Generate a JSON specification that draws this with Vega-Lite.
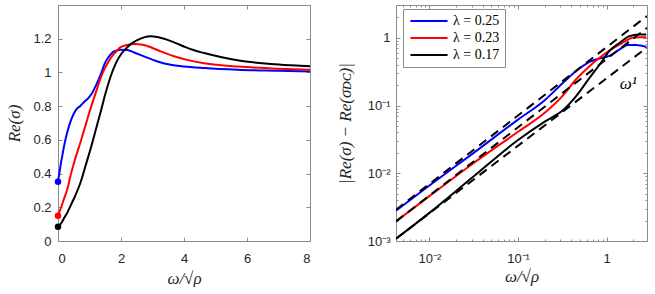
{
  "$schema": "https://vega.github.io/schema/vega-lite/v6.json",
  "padding": {"left": 5, "top": 4, "right": 0, "bottom": 0},
  "spacing": 20,
  "background": "white",
  "resolve": {"scale": {"color": "independent"}, "legend": {"color": "independent"}},
  "datasets": {
    "lin": [
      {"w": 0, "re": 0.352, "lam": "0.25"},
      {"w": 0.05, "re": 0.41, "lam": "0.25"},
      {"w": 0.1, "re": 0.47, "lam": "0.25"},
      {"w": 0.15, "re": 0.52, "lam": "0.25"},
      {"w": 0.2, "re": 0.57, "lam": "0.25"},
      {"w": 0.3, "re": 0.65, "lam": "0.25"},
      {"w": 0.4, "re": 0.71, "lam": "0.25"},
      {"w": 0.5, "re": 0.755, "lam": "0.25"},
      {"w": 0.6, "re": 0.785, "lam": "0.25"},
      {"w": 0.7, "re": 0.8, "lam": "0.25"},
      {"w": 0.83, "re": 0.825, "lam": "0.25"},
      {"w": 0.95, "re": 0.845, "lam": "0.25"},
      {"w": 1.09, "re": 0.88, "lam": "0.25"},
      {"w": 1.2, "re": 0.92, "lam": "0.25"},
      {"w": 1.36, "re": 0.99, "lam": "0.25"},
      {"w": 1.5, "re": 1.06, "lam": "0.25"},
      {"w": 1.6, "re": 1.09, "lam": "0.25"},
      {"w": 1.78, "re": 1.125, "lam": "0.25"},
      {"w": 1.99, "re": 1.135, "lam": "0.25"},
      {"w": 2.2, "re": 1.133, "lam": "0.25"},
      {"w": 2.4, "re": 1.12, "lam": "0.25"},
      {"w": 2.73, "re": 1.095, "lam": "0.25"},
      {"w": 3.16, "re": 1.065, "lam": "0.25"},
      {"w": 3.58, "re": 1.045, "lam": "0.25"},
      {"w": 4.0, "re": 1.035, "lam": "0.25"},
      {"w": 4.64, "re": 1.026, "lam": "0.25"},
      {"w": 5.7, "re": 1.016, "lam": "0.25"},
      {"w": 7.0, "re": 1.01, "lam": "0.25"},
      {"w": 8.0, "re": 1.006, "lam": "0.25"},
      {"w": 0, "re": 0.15, "lam": "0.23"},
      {"w": 0.1, "re": 0.2, "lam": "0.23"},
      {"w": 0.19, "re": 0.25, "lam": "0.23"},
      {"w": 0.3, "re": 0.31, "lam": "0.23"},
      {"w": 0.4, "re": 0.39, "lam": "0.23"},
      {"w": 0.55, "re": 0.49, "lam": "0.23"},
      {"w": 0.72, "re": 0.59, "lam": "0.23"},
      {"w": 0.88, "re": 0.69, "lam": "0.23"},
      {"w": 1.04, "re": 0.79, "lam": "0.23"},
      {"w": 1.2, "re": 0.88, "lam": "0.23"},
      {"w": 1.36, "re": 0.97, "lam": "0.23"},
      {"w": 1.5, "re": 1.03, "lam": "0.23"},
      {"w": 1.67, "re": 1.085, "lam": "0.23"},
      {"w": 1.85, "re": 1.125, "lam": "0.23"},
      {"w": 1.99, "re": 1.15, "lam": "0.23"},
      {"w": 2.2, "re": 1.163, "lam": "0.23"},
      {"w": 2.42, "re": 1.168, "lam": "0.23"},
      {"w": 2.73, "re": 1.163, "lam": "0.23"},
      {"w": 3.0, "re": 1.145, "lam": "0.23"},
      {"w": 3.26, "re": 1.125, "lam": "0.23"},
      {"w": 3.79, "re": 1.09, "lam": "0.23"},
      {"w": 4.2, "re": 1.07, "lam": "0.23"},
      {"w": 4.64, "re": 1.055, "lam": "0.23"},
      {"w": 5.7, "re": 1.035, "lam": "0.23"},
      {"w": 7.0, "re": 1.022, "lam": "0.23"},
      {"w": 8.0, "re": 1.016, "lam": "0.23"},
      {"w": 0, "re": 0.085, "lam": "0.17"},
      {"w": 0.1, "re": 0.105, "lam": "0.17"},
      {"w": 0.19, "re": 0.135, "lam": "0.17"},
      {"w": 0.3, "re": 0.17, "lam": "0.17"},
      {"w": 0.4, "re": 0.21, "lam": "0.17"},
      {"w": 0.55, "re": 0.27, "lam": "0.17"},
      {"w": 0.72, "re": 0.35, "lam": "0.17"},
      {"w": 0.88, "re": 0.45, "lam": "0.17"},
      {"w": 1.04, "re": 0.55, "lam": "0.17"},
      {"w": 1.2, "re": 0.66, "lam": "0.17"},
      {"w": 1.36, "re": 0.77, "lam": "0.17"},
      {"w": 1.5, "re": 0.87, "lam": "0.17"},
      {"w": 1.67, "re": 0.976, "lam": "0.17"},
      {"w": 1.85, "re": 1.06, "lam": "0.17"},
      {"w": 1.99, "re": 1.105, "lam": "0.17"},
      {"w": 2.15, "re": 1.14, "lam": "0.17"},
      {"w": 2.31, "re": 1.168, "lam": "0.17"},
      {"w": 2.5, "re": 1.19, "lam": "0.17"},
      {"w": 2.73, "re": 1.208, "lam": "0.17"},
      {"w": 2.94, "re": 1.214, "lam": "0.17"},
      {"w": 3.15, "re": 1.21, "lam": "0.17"},
      {"w": 3.37, "re": 1.2, "lam": "0.17"},
      {"w": 3.7, "re": 1.177, "lam": "0.17"},
      {"w": 4.0, "re": 1.154, "lam": "0.17"},
      {"w": 4.3, "re": 1.133, "lam": "0.17"},
      {"w": 4.64, "re": 1.115, "lam": "0.17"},
      {"w": 5.2, "re": 1.09, "lam": "0.17"},
      {"w": 5.7, "re": 1.072, "lam": "0.17"},
      {"w": 6.2, "re": 1.06, "lam": "0.17"},
      {"w": 6.76, "re": 1.05, "lam": "0.17"},
      {"w": 7.4, "re": 1.042, "lam": "0.17"},
      {"w": 8.0, "re": 1.036, "lam": "0.17"}
    ],
    "dots": [
      {"w": 0, "re": 0.352, "lam": "0.25"},
      {"w": 0, "re": 0.15, "lam": "0.23"},
      {"w": 0, "re": 0.085, "lam": "0.17"}
    ],
    "log": [
      {"w": 0.0042, "d": 0.0028, "lam": "0.25"},
      {"w": 0.01, "d": 0.0066, "lam": "0.25"},
      {"w": 0.03, "d": 0.019, "lam": "0.25"},
      {"w": 0.1, "d": 0.062, "lam": "0.25"},
      {"w": 0.2, "d": 0.12, "lam": "0.25"},
      {"w": 0.32, "d": 0.215, "lam": "0.25"},
      {"w": 0.45, "d": 0.32, "lam": "0.25"},
      {"w": 0.64, "d": 0.44, "lam": "0.25"},
      {"w": 0.83, "d": 0.495, "lam": "0.25"},
      {"w": 1.07, "d": 0.54, "lam": "0.25"},
      {"w": 1.39, "d": 0.67, "lam": "0.25"},
      {"w": 1.72, "d": 0.78, "lam": "0.25"},
      {"w": 2.14, "d": 0.78, "lam": "0.25"},
      {"w": 2.8, "d": 0.73, "lam": "0.25"},
      {"w": 0.0042, "d": 0.00195, "lam": "0.23"},
      {"w": 0.01, "d": 0.0046, "lam": "0.23"},
      {"w": 0.03, "d": 0.0135, "lam": "0.23"},
      {"w": 0.1, "d": 0.041, "lam": "0.23"},
      {"w": 0.2, "d": 0.078, "lam": "0.23"},
      {"w": 0.32, "d": 0.14, "lam": "0.23"},
      {"w": 0.45, "d": 0.242, "lam": "0.23"},
      {"w": 0.64, "d": 0.38, "lam": "0.23"},
      {"w": 0.83, "d": 0.506, "lam": "0.23"},
      {"w": 1.07, "d": 0.65, "lam": "0.23"},
      {"w": 1.5, "d": 0.84, "lam": "0.23"},
      {"w": 1.96, "d": 1.0, "lam": "0.23"},
      {"w": 2.4, "d": 1.02, "lam": "0.23"},
      {"w": 2.8, "d": 1.02, "lam": "0.23"},
      {"w": 0.0042, "d": 0.00108, "lam": "0.17"},
      {"w": 0.01, "d": 0.0026, "lam": "0.17"},
      {"w": 0.03, "d": 0.0085, "lam": "0.17"},
      {"w": 0.1, "d": 0.031, "lam": "0.17"},
      {"w": 0.2, "d": 0.058, "lam": "0.17"},
      {"w": 0.32, "d": 0.085, "lam": "0.17"},
      {"w": 0.45, "d": 0.137, "lam": "0.17"},
      {"w": 0.64, "d": 0.256, "lam": "0.17"},
      {"w": 0.83, "d": 0.4, "lam": "0.17"},
      {"w": 1.07, "d": 0.635, "lam": "0.17"},
      {"w": 1.39, "d": 0.84, "lam": "0.17"},
      {"w": 1.8, "d": 1.06, "lam": "0.17"},
      {"w": 2.3, "d": 1.12, "lam": "0.17"},
      {"w": 2.8, "d": 1.12, "lam": "0.17"}
    ],
    "dash": [
      {"w": 0.0042, "d": 0.0029, "g": "a"},
      {"w": 2.85, "d": 2.1, "g": "a"},
      {"w": 0.0042, "d": 0.00195, "g": "b"},
      {"w": 2.85, "d": 1.4, "g": "b"},
      {"w": 0.0042, "d": 0.00108, "g": "c"},
      {"w": 2.85, "d": 0.72, "g": "c"}
    ],
    "one": [{"t": "ω¹"}]
  },
  "hconcat": [
    {
      "width": 252,
      "height": 236,
      "resolve": {"axis": {"x": "independent", "y": "independent"}},
      "layer": [
        {
          "data": {"name": "lin"},
          "mark": {"type": "line", "strokeWidth": 2, "interpolate": "monotone"},
          "encoding": {
            "x": {"field": "w", "type": "quantitative", "scale": {"domain": [0, 8], "nice": false, "zero": false},
              "axis": {"orient": "bottom", "values": [0, 2, 4, 6, 8], "ticks": false, "domain": false, "grid": false, "labelPadding": 11, "format": "~g", "title": "ω/√ρ", "titlePadding": 5}},
            "y": {"field": "re", "type": "quantitative", "scale": {"domain": [0, 1.4], "nice": false, "zero": false},
              "axis": {"orient": "left", "values": [0, 0.2, 0.4, 0.6, 0.8, 1, 1.2], "ticks": false, "domain": false, "grid": false, "labelPadding": 7, "format": "~g", "title": "Re(σ)", "titlePadding": 9}},
            "color": {"field": "lam", "type": "nominal", "scale": {"domain": ["0.25", "0.23", "0.17"], "range": ["#0000ff", "#ff0000", "#000000"]}, "legend": null}
          }
        },
        {
          "data": {"name": "dots"},
          "mark": {"type": "point", "filled": true, "size": 42, "opacity": 1},
          "encoding": {
            "x": {"field": "w", "type": "quantitative", "scale": {"domain": [0, 8], "nice": false, "zero": false},
              "axis": {"orient": "bottom", "values": [0, 2, 4, 6, 8], "labels": false, "domain": false, "grid": false, "tickSize": -4, "title": null}},
            "y": {"field": "re", "type": "quantitative", "scale": {"domain": [0, 1.4], "nice": false, "zero": false},
              "axis": {"orient": "left", "values": [0, 0.2, 0.4, 0.6, 0.8, 1, 1.2], "labels": false, "domain": false, "grid": false, "tickSize": -4, "title": null}},
            "color": {"field": "lam", "type": "nominal", "scale": {"domain": ["0.25", "0.23", "0.17"], "range": ["#0000ff", "#ff0000", "#000000"]}, "legend": null}
          }
        },
        {
          "data": {"name": "dots"},
          "mark": {"type": "point", "opacity": 0},
          "encoding": {
            "x": {"field": "w", "type": "quantitative", "scale": {"domain": [0, 8], "nice": false, "zero": false},
              "axis": {"orient": "top", "values": [0, 2, 4, 6, 8], "labels": false, "domain": false, "grid": false, "tickSize": -4, "title": null}},
            "y": {"field": "re", "type": "quantitative", "scale": {"domain": [0, 1.4], "nice": false, "zero": false},
              "axis": {"orient": "right", "values": [0, 0.2, 0.4, 0.6, 0.8, 1, 1.2], "labels": false, "domain": false, "grid": false, "tickSize": -4, "title": null}}
          }
        }
      ]
    },
    {
      "width": 251,
      "height": 236,
      "resolve": {"axis": {"x": "independent", "y": "independent"}},
      "layer": [
        {
          "data": {"name": "log"},
          "mark": {"type": "line", "strokeWidth": 2, "interpolate": "monotone", "clip": true},
          "encoding": {
            "x": {"field": "w", "type": "quantitative", "scale": {"type": "log", "domain": [0.0042, 2.85], "nice": false},
              "axis": {"orient": "bottom", "values": [0.01, 0.1, 1], "ticks": false, "domain": false, "grid": false, "labelPadding": 11,
                "labelExpr": "datum.value >= 0.5 ? '1' : datum.value >= 0.05 ? '10⁻¹' : '10⁻²'", "title": "ω/√ρ", "titlePadding": 3}},
            "y": {"field": "d", "type": "quantitative", "scale": {"type": "log", "domain": [0.001, 3.05], "nice": false},
              "axis": {"orient": "left", "values": [0.001, 0.01, 0.1, 1], "ticks": false, "domain": false, "grid": false, "labelPadding": 6,
                "labelExpr": "datum.value >= 0.5 ? '1' : datum.value >= 0.05 ? '10⁻¹' : datum.value >= 0.005 ? '10⁻²' : '10⁻³'", "title": "|Re(σ) − Re(σᴅᴄ)|", "titlePadding": 13}},
            "color": {"field": "lam", "type": "nominal", "scale": {"domain": ["0.25", "0.23", "0.17"], "range": ["#0000ff", "#ff0000", "#000000"]},
              "legend": {"orient": "none", "legendX": 7, "legendY": 4, "title": null, "symbolType": "M-4,0H4", "symbolSize": 86, "symbolStrokeWidth": 2,
                "symbolOffset": 14, "labelFont": "Liberation Serif", "labelFontSize": 14, "labelColor": "#000000", "strokeColor": "#8c8c8c", "fillColor": "white",
                "padding": 5, "rowPadding": 3, "labelOffset": 17, "labelExpr": "'λ = ' + datum.label"}}
          }
        },
        {
          "data": {"name": "dash"},
          "mark": {"type": "line", "strokeWidth": 2, "color": "#000000", "strokeDash": [9, 6], "clip": true},
          "encoding": {
            "x": {"field": "w", "type": "quantitative", "scale": {"type": "log", "domain": [0.0042, 2.85], "nice": false},
              "axis": {"orient": "bottom", "values": [0.01, 0.1, 1], "labels": false, "domain": false, "grid": false, "tickSize": -4, "title": null}},
            "y": {"field": "d", "type": "quantitative", "scale": {"type": "log", "domain": [0.001, 3.05], "nice": false},
              "axis": {"orient": "left", "values": [0.001, 0.01, 0.1, 1], "labels": false, "domain": false, "grid": false, "tickSize": -4, "title": null}},
            "detail": {"field": "g", "type": "nominal"}
          }
        },
        {
          "data": {"name": "dash"},
          "mark": {"type": "point", "opacity": 0},
          "encoding": {
            "x": {"field": "w", "type": "quantitative", "scale": {"type": "log", "domain": [0.0042, 2.85], "nice": false},
              "axis": {"orient": "top", "values": [0.01, 0.1, 1], "labels": false, "domain": false, "grid": false, "tickSize": -4, "title": null}},
            "y": {"field": "d", "type": "quantitative", "scale": {"type": "log", "domain": [0.001, 3.05], "nice": false},
              "axis": {"orient": "right", "values": [0.001, 0.01, 0.1, 1], "labels": false, "domain": false, "grid": false, "tickSize": -4, "title": null}}
          }
        },
        {
          "data": {"name": "dash"},
          "mark": {"type": "point", "opacity": 0},
          "encoding": {
            "x": {"field": "w", "type": "quantitative", "scale": {"type": "log", "domain": [0.0042, 2.85], "nice": false},
              "axis": {"orient": "bottom", "values": [0.005, 0.006, 0.007, 0.008, 0.009, 0.02, 0.03, 0.04, 0.05, 0.06, 0.07, 0.08, 0.09, 0.2, 0.3, 0.4, 0.5, 0.6, 0.7, 0.8, 0.9, 2], "labels": false, "domain": false, "grid": false, "tickSize": -2, "title": null}},
            "y": {"field": "d", "type": "quantitative", "scale": {"type": "log", "domain": [0.001, 3.05], "nice": false},
              "axis": {"orient": "left", "values": [0.002, 0.003, 0.004, 0.005, 0.006, 0.007, 0.008, 0.009, 0.02, 0.03, 0.04, 0.05, 0.06, 0.07, 0.08, 0.09, 0.2, 0.3, 0.4, 0.5, 0.6, 0.7, 0.8, 0.9, 2], "labels": false, "domain": false, "grid": false, "tickSize": -2, "title": null}}
          }
        },
        {
          "data": {"name": "dash"},
          "mark": {"type": "point", "opacity": 0},
          "encoding": {
            "x": {"field": "w", "type": "quantitative", "scale": {"type": "log", "domain": [0.0042, 2.85], "nice": false},
              "axis": {"orient": "top", "values": [0.005, 0.006, 0.007, 0.008, 0.009, 0.02, 0.03, 0.04, 0.05, 0.06, 0.07, 0.08, 0.09, 0.2, 0.3, 0.4, 0.5, 0.6, 0.7, 0.8, 0.9, 2], "labels": false, "domain": false, "grid": false, "tickSize": -2, "title": null}},
            "y": {"field": "d", "type": "quantitative", "scale": {"type": "log", "domain": [0.001, 3.05], "nice": false},
              "axis": {"orient": "right", "values": [0.002, 0.003, 0.004, 0.005, 0.006, 0.007, 0.008, 0.009, 0.02, 0.03, 0.04, 0.05, 0.06, 0.07, 0.08, 0.09, 0.2, 0.3, 0.4, 0.5, 0.6, 0.7, 0.8, 0.9, 2], "labels": false, "domain": false, "grid": false, "tickSize": -2, "title": null}}
          }
        },
        {
          "data": {"name": "one"},
          "mark": {"type": "text", "font": "Liberation Serif", "fontSize": 17, "fontStyle": "italic", "color": "#000000", "align": "center", "baseline": "middle"},
          "encoding": {
            "x": {"datum": 1.75, "type": "quantitative", "axis": null},
            "y": {"datum": 0.21, "type": "quantitative", "axis": null},
            "text": {"field": "t"}
          }
        }
      ]
    }
  ],
  "config": {
    "view": {"stroke": "#8c8c8c", "strokeWidth": 1},
    "axis": {
      "labelFont": "Liberation Sans", "labelFontSize": 13, "labelColor": "#262626",
      "titleFont": "Liberation Serif", "titleFontSize": 17, "titleFontStyle": "italic", "titleFontWeight": "normal", "titleColor": "#262626",
      "tickColor": "#8c8c8c", "tickWidth": 1
    }
  }
}
